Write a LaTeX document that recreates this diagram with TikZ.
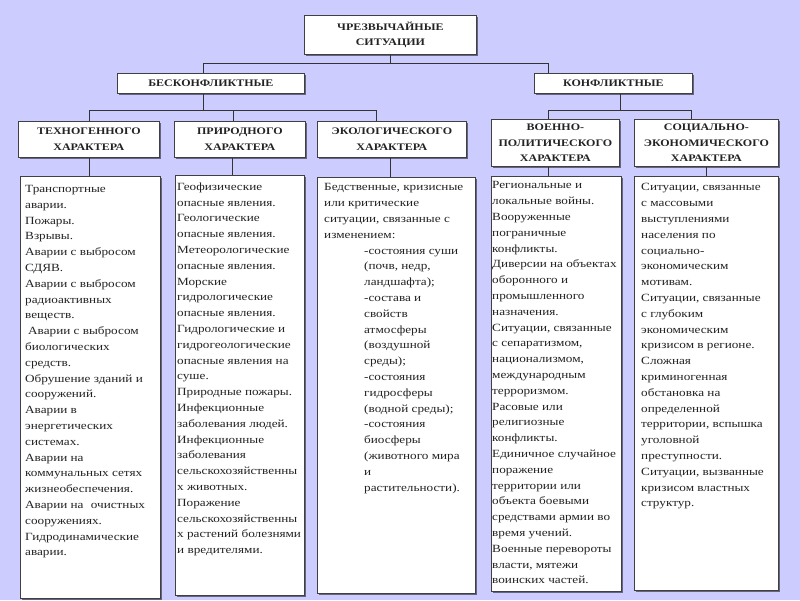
\documentclass[tikz,border=0pt]{standalone}
\usepackage{fontspec}
\setmainfont{Liberation Serif}[FakeStretch=1.2]
\usetikzlibrary{shadows}
\definecolor{bglav}{RGB}{204,204,255}
\definecolor{ink}{RGB}{35,35,35}
\tikzset{
  box/.style  = {draw=black!75, fill=white, line width=0.8pt, inner sep=0pt,
    anchor=north west, drop shadow={shadow xshift=1.2pt, shadow yshift=-1.2pt, fill=black}},
  head/.style = {box, align=center, text=ink,
    font=\bfseries\fontsize{10}{15.5}\selectfont},
  body/.style = {anchor=north west, inner sep=0pt, align=left, text=ink,
    font=\fontsize{11}{15.8}\selectfont},
  link/.style = {draw=black!80, line width=0.8pt}
}

\begin{document}
\begin{tikzpicture}[x=1pt,y=-1pt]
\fill[bglav] (0,0) rectangle (800,600);
\useasboundingbox (0,0) rectangle (800,600);

% top levels
\node[head, minimum width=172, minimum height=39] (top) at (304,15) {ЧРЕЗВЫЧАЙНЫЕ\\СИТУАЦИИ};
\node[head, minimum width=187, minimum height=20] (bes) at (117,73) {БЕСКОНФЛИКТНЫЕ};
\node[head, minimum width=158, minimum height=20] (kon) at (534,73) {КОНФЛИКТНЫЕ};

% kinds
\node[head, minimum width=141, minimum height=36] (tech) at (18,121) {ТЕХНОГЕННОГО\\ХАРАКТЕРА};
\node[head, minimum width=131, minimum height=36] (prir) at (174,121) {ПРИРОДНОГО\\ХАРАКТЕРА};
\node[head, minimum width=149, minimum height=36] (eco)  at (317,121) {ЭКОЛОГИЧЕСКОГО\\ХАРАКТЕРА};
\node[head, minimum width=128, minimum height=47] (voen) at (491,119) {ВОЕННО-\\ПОЛИТИЧЕСКОГО\\ХАРАКТЕРА};
\node[head, minimum width=144, minimum height=47] (soc)  at (634,119) {СОЦИАЛЬНО-\\ЭКОНОМИЧЕСКОГО\\ХАРАКТЕРА};

% text columns
\node[box, minimum width=140, minimum height=422] (c1) at (20,176) {};
\node[box, minimum width=129, minimum height=420] (c2) at (175,175) {};
\node[box, minimum width=158, minimum height=416] (c3) at (317,177) {};
\node[box, minimum width=130, minimum height=415] (c4) at (491,176) {};
\node[box, minimum width=144, minimum height=414] (c5) at (634,176) {};

\node[body] (t1) at ([shift={(5,9)}]c1.north west) {Транспортные\\аварии.\\Пожары.\\Взрывы.\\
  Аварии с выбросом\\СДЯВ.\\Аварии с выбросом\\радиоактивных\\веществ.\\
  \hspace*{3pt}Аварии с выбросом\\биологических\\средств.\\Обрушение зданий и\\сооружений.\\
  Аварии в\\энергетических\\системах.\\Аварии на\\коммунальных сетях\\жизнеобеспечения.\\
  Аварии на\hspace{4pt} очистных\\сооружениях.\\Гидродинамические\\аварии.};
\node[body] (t2) at ([shift={(2,7.5)}]c2.north west) {Геофизические\\опасные явления.\\
  Геологические\\опасные явления.\\Метеорологические\\опасные явления.\\Морские\\
  гидрологические\\опасные явления.\\Гидрологические и\\гидрогеологические\\
  опасные явления на\\суше.\\Природные пожары.\\Инфекционные\\заболевания людей.\\
  Инфекционные\\заболевания\\сельскохозяйственны\\х животных.\\Поражение\\
  сельскохозяйственны\\х растений болезнями\\и вредителями.};
\node[body] (t3) at ([shift={(7,6.5)}]c3.north west) {Бедственные, кризисные\\или критические\\
  ситуации, связанные с\\изменением:\\
  \hspace*{40pt}-состояния суши\\\hspace*{40pt}(почв, недр,\\\hspace*{40pt}ландшафта);\\
  \hspace*{40pt}-состава и\\\hspace*{40pt}свойств\\\hspace*{40pt}атмосферы\\
  \hspace*{40pt}(воздушной\\\hspace*{40pt}среды);\\\hspace*{40pt}-состояния\\
  \hspace*{40pt}гидросферы\\\hspace*{40pt}(водной среды);\\\hspace*{40pt}-состояния\\
  \hspace*{40pt}биосферы\\\hspace*{40pt}(животного мира\\\hspace*{40pt}и\\
  \hspace*{40pt}растительности).};
\node[body] (t4) at ([shift={(1,5.5)}]c4.north west) {Региональные и\\локальные войны.\\
  Вооруженные\\пограничные\\конфликты.\\Диверсии на объектах\\оборонного и\\
  промышленного\\назначения.\\Ситуации, связанные\\с сепаратизмом,\\национализмом,\\
  международным\\терроризмом.\\Расовые или\\религиозные\\конфликты.\\
  Единичное случайное\\поражение\\территории или\\объекта боевыми\\
  средствами армии во\\время учений.\\Военные перевороты\\власти, мятежи\\воинских частей.};
\node[body] (t5) at ([shift={(7,7.5)}]c5.north west) {Ситуации, связанные\\с массовыми\\
  выступлениями\\населения по\\социально-\\экономическим\\мотивам.\\
  Ситуации, связанные\\с глубоким\\экономическим\\кризисом в регионе.\\Сложная\\
  криминогенная\\обстановка на\\определенной\\территории, вспышка\\уголовной\\
  преступности.\\Ситуации, вызванные\\кризисом властных\\структур.};

% connectors
\draw[link] (top.south) -- ++(0,9) coordinate (busA);
\draw[link] ([xshift=-7.5pt]bes.north) |- (busA) -| ([xshift=-65pt]kon.north);
\draw[link] ([xshift=-7.5pt]bes.south) -- ++(0,17) coordinate (busB);
\draw[link] (tech.north) |- (busB) -| ([xshift=-15.5pt]eco.north);
\draw[link] ([xshift=-6.5pt]prir.north) -- ([xshift=-6.5pt]prir.north |- busB);
\draw[link] ([xshift=7pt]kon.south) -- ++(0,17) coordinate (busC);
\draw[link] ([xshift=-7pt]voen.north) |- (busC) -| ([xshift=-15pt]soc.north);

\draw[link] (tech.south) -- (tech.south |- c1.north);
\draw[link] ([xshift=-7.5pt]prir.south) -- ([xshift=-7.5pt]prir.south |- c2.north);
\draw[link] ([xshift=-2pt]eco.south) -- ([xshift=-2pt]eco.south |- c3.north);
\draw[link] ([xshift=-7pt]voen.south) -- ([xshift=-7pt]voen.south |- c4.north);
\draw[link] (soc.south) -- (soc.south |- c5.north);
\end{tikzpicture}
\end{document}
